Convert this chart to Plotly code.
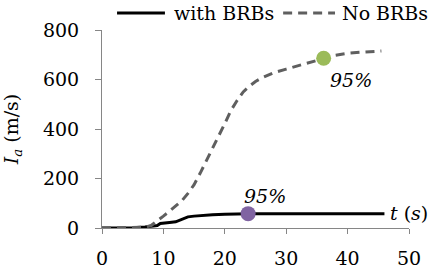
import plotly.graph_objects as go

# Data
t_no = [0, 2, 4, 6, 7, 8, 9, 10, 11, 12, 13, 14, 15, 16, 17, 18, 19, 20, 21, 22, 23,
        24, 25, 26, 27, 28, 30, 32, 34, 36, 38, 40, 42, 44, 45.5]
ia_no = [0, 0, 0, 1, 3, 10, 28, 48, 68, 88, 110, 140, 175, 222, 270, 320, 372, 422, 475,
         515, 550, 573, 592, 606, 618, 628, 642, 655, 668, 684, 698, 706, 710, 713, 715]

t_with = [0, 3, 5, 7, 8, 9, 9.5, 10, 11, 12, 12.5, 13, 14, 15, 17, 18, 20, 22, 24, 30, 40, 46]
ia_with = [0, 0, 1, 4, 6, 10, 18, 20, 22, 25, 30, 38, 45, 48, 50, 54, 56, 58, 58, 58, 58, 58]

pt_with = (23.8, 58)
pt_no = (36.1, 686)

x_ticks = [0, 10, 20, 30, 40, 50]
y_ticks = [0, 200, 400, 600, 800]

series_names = ["with BRBs", "No BRBs"]

FONT = "DejaVu Serif"
FS = 19
AX = "#868686"
LINE_WITH = dict(color="black", width=3)
LINE_NO = dict(color="#5f5f5f", width=3, dash="9px,6px")

fig = go.Figure()
fig.add_trace(go.Scatter(x=t_with, y=ia_with, mode="lines", name=series_names[0],
                         line=LINE_WITH, showlegend=False))
fig.add_trace(go.Scatter(x=t_no, y=ia_no, mode="lines", name=series_names[1],
                         line=LINE_NO, showlegend=False))
fig.add_trace(go.Scatter(x=[pt_with[0]], y=[pt_with[1]], mode="markers", showlegend=False,
                         marker=dict(color="#8064A2", size=15)))
fig.add_trace(go.Scatter(x=[pt_no[0]], y=[pt_no[1]], mode="markers", showlegend=False,
                         marker=dict(color="#9BBB59", size=15)))

# Legend (key lines + labels above the plot)
LEG_Y = 1.086
fig.add_shape(type="line", xref="paper", yref="paper", x0=0.049, x1=0.205,
              y0=LEG_Y, y1=LEG_Y, line=LINE_WITH)
fig.add_shape(type="line", xref="paper", yref="paper", x0=0.590, x1=0.759,
              y0=LEG_Y, y1=LEG_Y, line=LINE_NO)
fig.add_annotation(xref="paper", yref="paper", x=0.228, y=LEG_Y, xanchor="left",
                   yanchor="middle", text=series_names[0], showarrow=False,
                   font=dict(family=FONT, size=FS, color="black"))
fig.add_annotation(xref="paper", yref="paper", x=0.775, y=LEG_Y, xanchor="left",
                   yanchor="middle", text=series_names[1], showarrow=False,
                   font=dict(family=FONT, size=FS, color="black"))

fig.add_annotation(x=26.5, y=129, text="<i>95%</i>", showarrow=False,
                   font=dict(family=FONT, size=FS, color="black"))
fig.add_annotation(x=40.5, y=598, text="<i>95%</i>", showarrow=False,
                   font=dict(family=FONT, size=FS, color="black"))
fig.add_annotation(x=50, y=62, text="<i>t</i> (<i>s</i>)", showarrow=False,
                   font=dict(family=FONT, size=FS, color="black"))

fig.update_layout(
    width=437, height=269,
    margin=dict(l=102, r=28, t=30, b=41, autoexpand=False),
    paper_bgcolor="white", plot_bgcolor="white",
    font=dict(family=FONT, size=FS, color="black"),
    showlegend=False,
    hovermode=False,
    xaxis=dict(range=[0, 50], tickvals=x_ticks, showgrid=False, zeroline=False,
               showline=True, linecolor=AX, linewidth=1, automargin=False,
               ticks="outside", ticklen=5, tickcolor=AX, ticklabelstandoff=8,
               tickfont=dict(family=FONT, size=FS),
               fixedrange=True),
    yaxis=dict(range=[0, 800], tickvals=y_ticks, showgrid=False, zeroline=False,
               showline=True, linecolor=AX, linewidth=1, automargin=False,
               ticks="outside", ticklen=6, tickcolor=AX, ticklabelstandoff=12,
               tickfont=dict(family=FONT, size=FS),
               title=dict(text="<i>I<sub>a</sub></i> (m/s)", standoff=20,
                          font=dict(family=FONT, size=FS)),
               fixedrange=True),
)

fig.write_html("out.html",
               config={"displayModeBar": False, "staticPlot": True},
               post_script="document.body.style.margin='0';document.body.style.overflow='hidden';")
